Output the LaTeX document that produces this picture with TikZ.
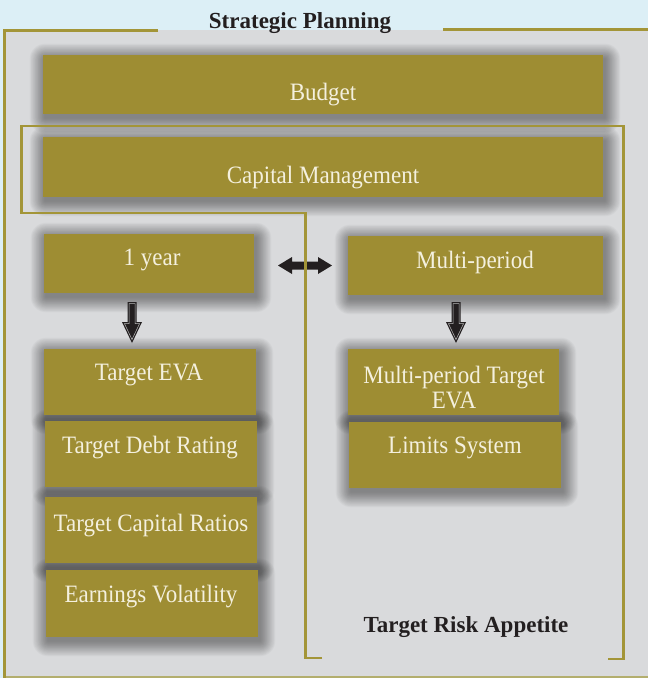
\documentclass[tikz,border=0pt]{standalone}
\usepackage{fontspec}
\setmainfont{Liberation Serif}
\newfontfamily\boxfont[FakeStretch=0.92]{Liberation Serif}
\pgfdeclarelayer{bottom}
\pgfdeclarelayer{background}
\pgfsetlayers{bottom,background,main}
\definecolor{skyb}{HTML}{DCEFF6}
\definecolor{panelg}{HTML}{D9DADC}
\definecolor{goldbox}{HTML}{9E8D33}
\definecolor{goldline}{HTML}{A39538}
\definecolor{goldpale}{HTML}{B3AE6E}
\definecolor{cream}{HTML}{F4F0DE}
\definecolor{inkd}{HTML}{231F20}
\tikzset{
  gbox/.style={fill=goldbox, inner sep=0pt, outer sep=0pt, anchor=north west},
  btext/.style={text=cream, font=\boxfont\fontsize{25}{25}\selectfont, anchor=base, inner sep=0pt},
  ttext/.style={text=inkd, font=\bfseries\fontsize{23}{23}\selectfont, anchor=base, inner sep=0pt},
  gline/.style={draw=goldline, line width=2.5pt},
  shadowlayer/.style={fill=black, opacity=0.021},
  downarr/.pic={
    \fill[inkd] (-4.5,0) -- (4.5,0) -- (4.5,20) -- (10,20) -- (0,41) -- (-10,20) -- (-4.5,20) -- cycle;
    \draw[gray!55, line width=0.5pt] (-3,1.5) -- (3,1.5) -- (3,21.5) -- (7.6,21.5) -- (0,37.5) -- (-7.6,21.5) -- (-3,21.5) -- cycle;
  },
  dblarr/.pic={
    \fill[inkd] (-27,0) -- (-13,-8.5) -- (-13,-4) -- (13,-4) -- (13,-8.5) -- (27,0) -- (13,8.5) -- (13,4) -- (-13,4) -- (-13,8.5) -- cycle;
  }
}
\newcommand\mkshadow[1]{%
  \begin{pgfonlayer}{background}
  \foreach \r in {1,...,22}{%
    \fill[shadowlayer, rounded corners={\r*0.7pt}]
      ([xshift={(2-0.7*\r)*1pt}, yshift={(0.7*\r-4)*1pt}]#1.north west) rectangle
      ([xshift={(2+0.7*\r)*1pt}, yshift={(-0.7*\r-4)*1pt}]#1.south east);
  }
  \end{pgfonlayer}}
\begin{document}
\begin{tikzpicture}[x=1pt,y=-1pt]
\useasboundingbox (0,0) rectangle (648,678);
\begin{pgfonlayer}{bottom}
\fill[skyb] (0,0) rectangle (648,678);
\fill[panelg] (5,30) rectangle (648,677);
\end{pgfonlayer}

% boxes
\node[gbox, minimum width=560pt, minimum height=59pt] (budget) at (43,55) {};
\node[gbox, minimum width=560pt, minimum height=60pt] (capman) at (43,137) {};
\node[gbox, minimum width=210pt, minimum height=59pt] (oneyear) at (44,234) {};
\node[gbox, minimum width=255pt, minimum height=59pt] (multi) at (348,236) {};
\node[gbox, minimum width=212pt, minimum height=66pt] (teva) at (44,349) {};
\node[gbox, minimum width=212pt, minimum height=66pt] (tdebt) at (45,421) {};
\node[gbox, minimum width=212pt, minimum height=66pt] (tcap) at (45,497) {};
\node[gbox, minimum width=212pt, minimum height=67pt] (earn) at (46,570) {};
\node[gbox, minimum width=211pt, minimum height=66pt] (mpteva) at (348,349) {};
\node[gbox, minimum width=212pt, minimum height=66pt] (limits) at (349,422) {};
\foreach \b in {budget,capman,oneyear,multi,teva,tdebt,tcap,earn,mpteva,limits}{\mkshadow{\b}}

% arrows
\pic at (132,302) {downarr};
\pic at (456,302) {downarr};
\pic at (305,265.5) {dblarr};

% gold lines
\draw[gline, line width=3pt] (158,30) -- (4.5,30) -- (4.5,678);
\draw[gline, line width=3pt] (443,29.5) -- (648,29.5);
\draw[draw=goldpale, line width=2pt] (6,677) -- (648,677);
\draw[gline] (322,658) -- (305.5,658) -- (305.5,213) -- (21.5,213) -- (21.5,126)
  -- (623.5,126) -- (623.5,659) -- (608,659);

% texts
\node[ttext] (title) at (300,28) {Strategic Planning};
\node[ttext] (risk) at (466,632) {Target Risk Appetite};
\node[btext] (budgetT) at (323,100) {Budget};
\node[btext] (capmanT) at (323,183) {Capital Management};
\node[btext] (oneyearT) at (152,265) {1 year};
\node[btext] (multiT) at (475,268) {Multi-period};
\node[btext] (tevaT) at (149,380) {Target EVA};
\node[btext] (tdebtT) at (150,453) {Target Debt Rating};
\node[btext] (tcapT) at (151,531) {Target Capital Ratios};
\node[btext] (earnT) at (151,602) {Earnings Volatility};
\node[btext] (mptevaT) at (454,383) {Multi-period Target};
\node[btext] (mptevaT2) at (454,408) {EVA};
\node[btext] (limitsT) at (455,453) {Limits System};
\end{tikzpicture}
\end{document}
